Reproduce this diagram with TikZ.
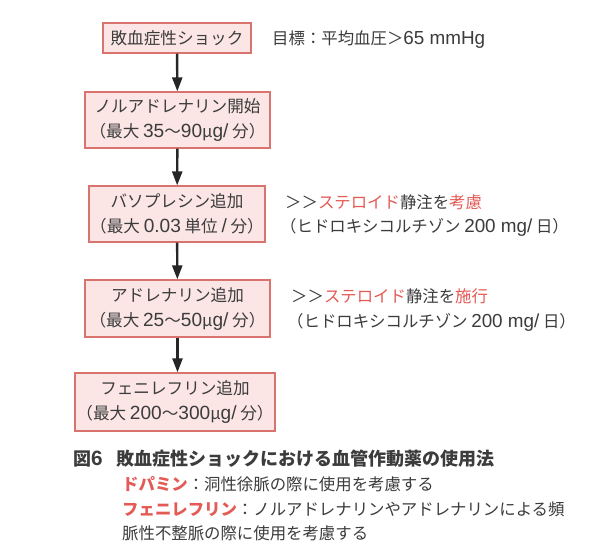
\documentclass[tikz,border=0pt]{standalone}
\usepackage{fontspec}
\setmainfont{Noto Sans CJK JP}
\newfontfamily\latfont[Scale=1.15]{Liberation Sans}
\newcommand{\la}[1]{{\latfont #1}}
\usetikzlibrary{arrows.meta}
\definecolor{boxfill}{HTML}{FBE5E5}
\definecolor{boxline}{HTML}{D9736E}
\definecolor{redtxt}{HTML}{E45A55}
\definecolor{txt}{HTML}{3C3C3C}
\begin{document}
\begin{tikzpicture}[x=1pt,y=-1pt,
  stepbox/.style={draw=boxline,line width=1.3pt,fill=boxfill,align=center,
    font=\fontsize{16.6}{25}\selectfont,text=txt,inner sep=0pt},
  flow/.style={line width=2.4pt,draw=black!85,-{Triangle[length=14pt,width=10pt]}},
  note/.style={anchor=west,font=\fontsize{16.4}{23}\selectfont,text=txt,inner sep=0pt}]
\useasboundingbox (0,0) rectangle (606,544);
\fill[white] (0,0) rectangle (606,544);
\node[stepbox,minimum width=148pt,minimum height=30pt] (b1) at (177,38) {敗血症性ショック};
\node[stepbox,minimum width=185pt,minimum height=56pt] (b2) at (177.5,120) {ノルアドレナリン開始\\（最大 \la{35}〜\la{90}μ\la{g/} 分）};
\node[stepbox,minimum width=176pt,minimum height=56pt] (b3) at (177,214) {バソプレシン追加\\（最大 \la{0.03} 単位 \la{/} 分）};
\node[stepbox,minimum width=185pt,minimum height=57pt] (b4) at (177.5,308.5) {アドレナリン追加\\（最大 \la{25}〜\la{50}μ\la{g/} 分）};
\node[stepbox,minimum width=200pt,minimum height=58pt] (b5) at (175,402) {フェニレフリン追加\\（最大 \la{200}〜\la{300}μ\la{g/} 分）};
\draw[flow] (b1) -- (b2);
\draw[flow] (b2) -- (b3);
\draw[flow] (b3) -- (b4);
\draw[flow] (b4) -- (b4 |- b5.north);
\node[note] (goal) at (272,40) {目標：平均血圧＞\la{65 mmHg}};
\node[note] (s1) at (285,202) {＞＞\textcolor{redtxt}{ステロイド}静注を\textcolor{redtxt}{考慮}};
\node[note] (h1) at (280,227) {（ヒドロキシコルチゾン \la{200 mg/} 日）};
\node[note] (s2) at (291,296) {＞＞\textcolor{redtxt}{ステロイド}静注を\textcolor{redtxt}{施行}};
\node[note] (h2) at (287,322) {（ヒドロキシコルチゾン \la{200 mg/} 日）};
\node[note,font=\fontsize{18}{20}\selectfont\bfseries] (cap) at (73,459) {図\la{\bfseries 6}\hspace{14pt}敗血症性ショックにおける血管作動薬の使用法};
\node[note] (c1) at (122,484) {\textcolor{redtxt}{\bfseries ドパミン}：洞性徐脈の際に使用を考慮する};
\node[note] (c2) at (122,509) {\textcolor{redtxt}{\bfseries フェニレフリン}：ノルアドレナリンやアドレナリンによる頻};
\node[note] (c3) at (122,533) {脈性不整脈の際に使用を考慮する};
\end{tikzpicture}
\end{document}
